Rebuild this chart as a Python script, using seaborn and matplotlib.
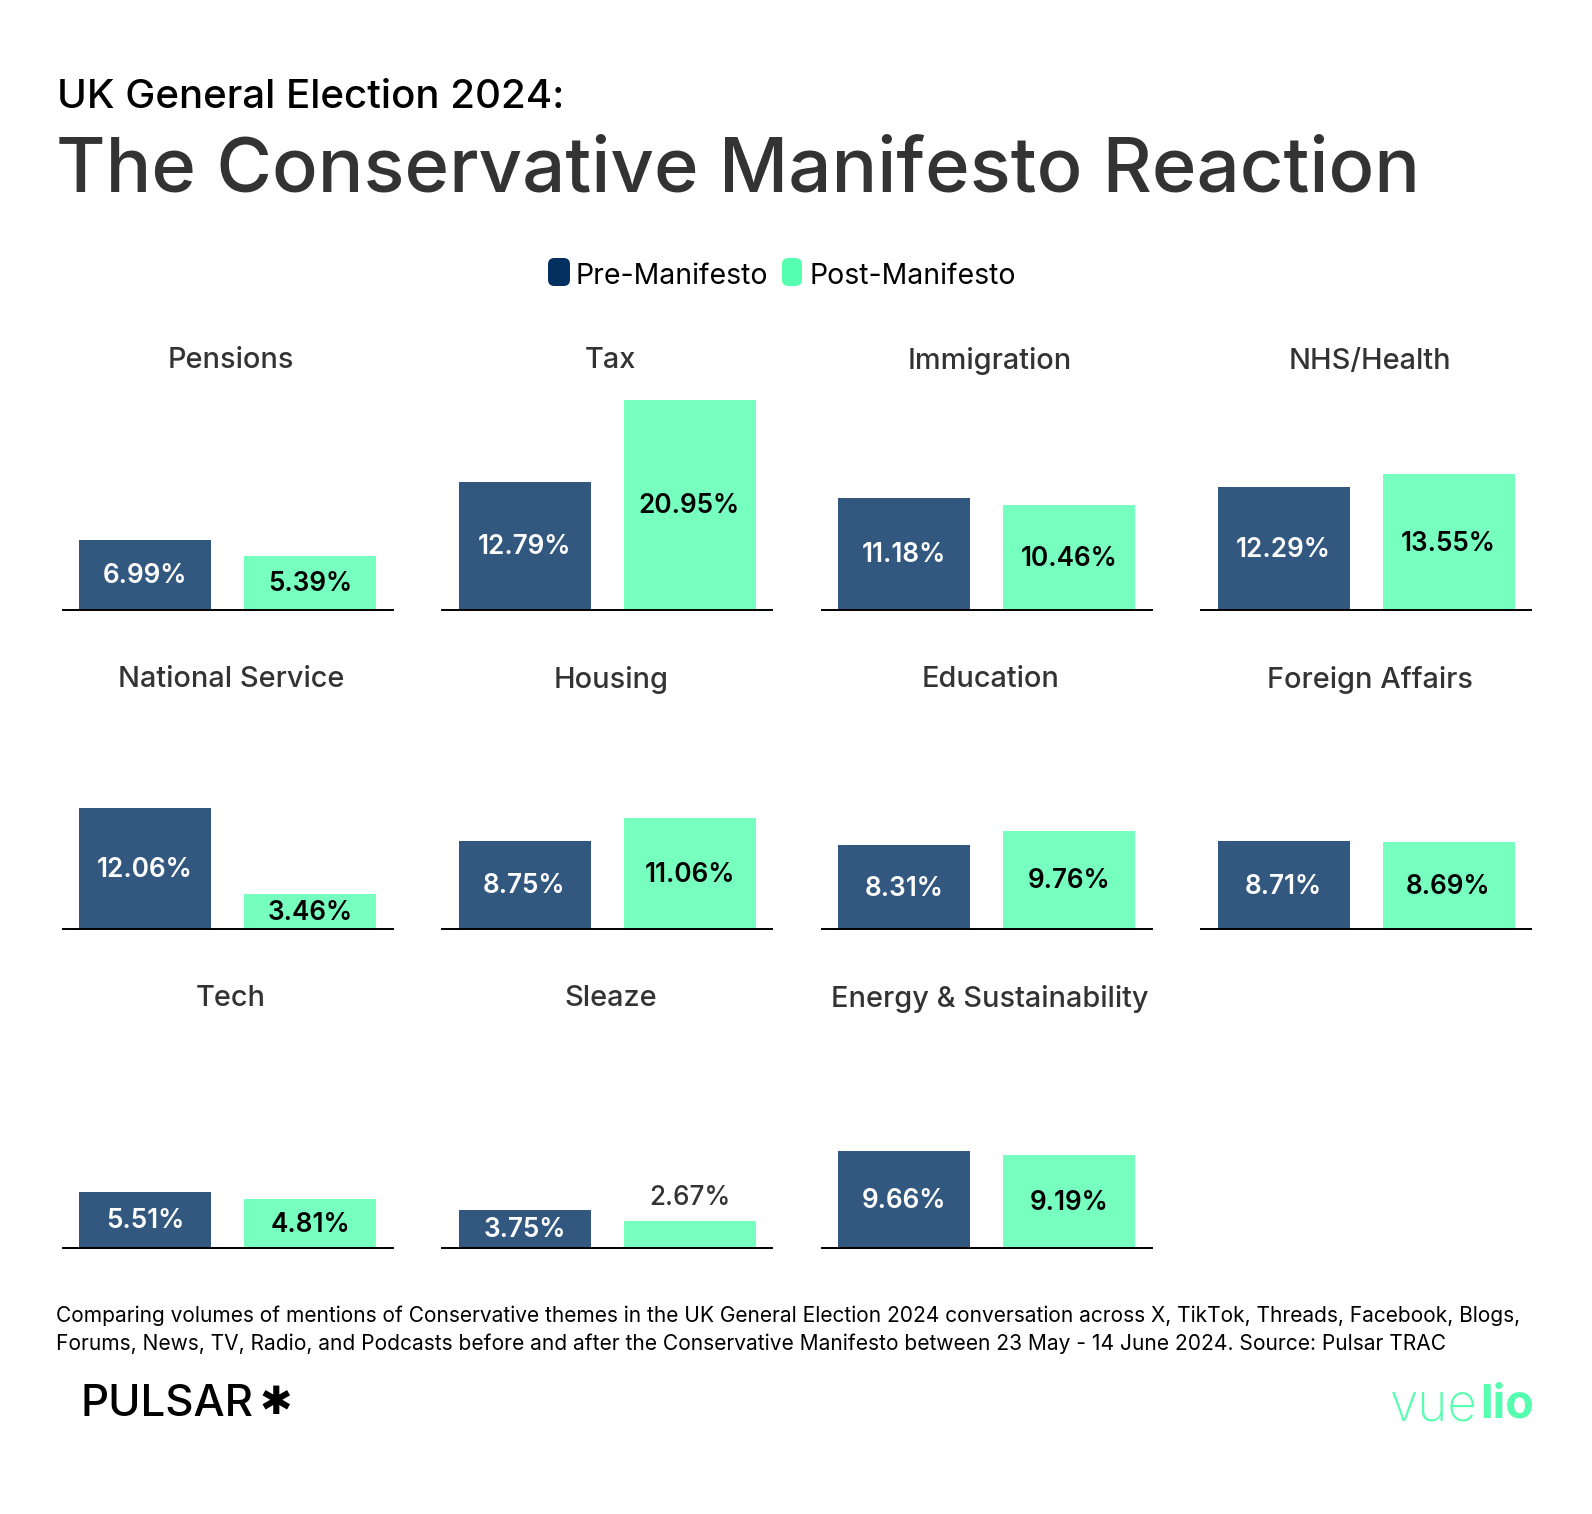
import matplotlib
matplotlib.use("Agg")
import matplotlib.pyplot as plt
from matplotlib.patches import FancyBboxPatch
import seaborn as sns
import pandas as pd

# values
themes = ["Pensions", "Tax", "Immigration", "NHS/Health",
          "National Service", "Housing", "Education", "Foreign Affairs",
          "Tech", "Sleaze", "Energy & Sustainability"]
pre_values = [6.99, 12.79, 11.18, 12.29, 12.06, 8.75, 8.31, 8.71, 5.51, 3.75, 9.66]
post_values = [5.39, 20.95, 10.46, 13.55, 3.46, 11.06, 9.76, 8.69, 4.81, 2.67, 9.19]
periods = ["Pre-Manifesto", "Post-Manifesto"]

W, H = 1592, 1514
DARK_TEXT = "#333333"
BAR_COLORS = ["#33587F", "#76FFBE"]
KEY_COLORS = ["#02305F", "#55FFAF"]

sns.set_theme(style="white")
plt.rcParams["font.family"] = ["Inter", "DejaVu Sans"]

df = pd.DataFrame({
    "theme": themes * 2,
    "period": [periods[0]] * len(themes) + [periods[1]] * len(themes),
    "share": pre_values + post_values,
})

fig = plt.figure(figsize=(W / 100, H / 100), dpi=100, facecolor="white")


def text_px(x, y, s, size, **kw):
    fig.text(x / W, 1 - y / H, s, fontsize=size, **kw)


panel_w = 330
panel_h = 215
for i, theme in enumerate(themes):
    row, col = divmod(i, 4)
    left = 62.5 + col * 379.5
    base = 610 + row * 318.8
    ax = fig.add_axes([left / W, 1 - base / H, panel_w / W, panel_h / H])
    sub = df[df["theme"] == theme]
    sns.barplot(data=sub, x="period", y="share", hue="period", palette=BAR_COLORS,
                order=periods, hue_order=periods, legend=False, width=0.8,
                saturation=1, linewidth=0, ax=ax)
    ax.set_ylim(0, panel_h / 10.03)
    ax.set_xlim(-0.5, 1.5)
    ax.set_xlabel("")
    ax.set_ylabel("")
    ax.set_xticks([])
    ax.set_yticks([])
    sns.despine(ax=ax, left=True)
    ax.spines["bottom"].set_color("black")
    ax.spines["bottom"].set_linewidth(1.4)
    ax.patch.set_alpha(0)
    # panel titles sit a little right of the bar centres
    ax.text(0.522, 249 / 10.03, theme, fontsize=20.8, color=DARK_TEXT, fontweight="medium",
            ha="center", va="center", clip_on=False)

    for container, color in zip(ax.containers, ["white", "black"]):
        val = container.datavalues[0]
        if val < 3:
            ax.bar_label(container, labels=[f"{val:.2f}%"], label_type="edge", padding=7,
                         fontsize=18.8, fontweight="medium", color=DARK_TEXT)
        else:
            labels = ax.bar_label(container, labels=[f"{val:.2f}%"], label_type="center",
                                  fontsize=18.8, fontweight="semibold", color=color)
            for t in labels:
                t.xyann = (0, -1.1)

# headings
text_px(57, 98, "UK General Election 2024:", 29, color="black", fontweight="medium", va="center")
text_px(56, 172, "The Conservative Manifesto Reaction", 54.7, color=DARK_TEXT, fontweight="medium", va="center")

# legend key
for x, w, color in [(548, 22, KEY_COLORS[0]), (782, 20, KEY_COLORS[1])]:
    fig.add_artist(FancyBboxPatch((x / W, 1 - 286 / H), w / W, 28 / H,
                                  boxstyle="round,pad=0,rounding_size=0.004",
                                  mutation_aspect=W / H, transform=fig.transFigure,
                                  facecolor=color, edgecolor="none"))
text_px(576, 276, periods[0], 20.5, color="black", va="center")
text_px(809, 276, periods[1], 20.5, color="black", va="center")

# footnote
text_px(56, 1316, "Comparing volumes of mentions of Conservative themes in the UK General Election 2024 conversation across X, TikTok, Threads, Facebook, Blogs,",
        15.05, color="black", va="center")
text_px(56, 1344, "Forums, News, TV, Radio, and Podcasts before and after the Conservative Manifesto between 23 May - 14 June 2024. Source: Pulsar TRAC",
        15.1, color="black", va="center")

# logos
text_px(81, 1404, "PULSAR", 31.6, color="black", fontweight="medium", va="center")
text_px(259, 1403, "✱", 28, color="black", va="center", family="DejaVu Sans")
text_px(1478, 1407, "vue", 37, color=KEY_COLORS[1], fontweight="light", va="center", ha="right")
text_px(1480, 1406, "lio", 33.5, color=KEY_COLORS[1], fontweight="bold", va="center", ha="left")

fig.savefig("out.png", dpi=100, facecolor="white")
